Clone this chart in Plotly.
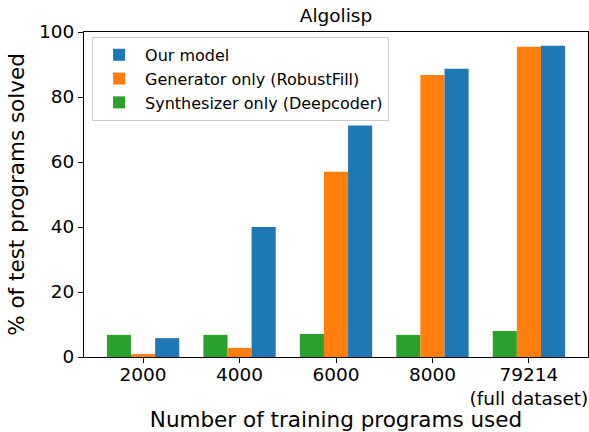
import plotly.graph_objects as go

categories = ["2000", "4000", "6000", "8000", "79214<br>(full dataset)"]
our_model = [5.8, 40.0, 71.2, 88.7, 95.8]
generator_only = [0.9, 2.8, 57.0, 86.8, 95.5]
synthesizer_only = [6.8, 6.8, 7.1, 6.8, 8.0]

BLUE = "#1f77b4"
ORANGE = "#ff7f0e"
GREEN = "#2ca02c"
FONT = "DejaVu Sans"

fig = go.Figure()
fig.add_trace(go.Bar(x=categories, y=synthesizer_only, name="Synthesizer only (Deepcoder)",
                     marker=dict(color=GREEN, line=dict(width=0))))
fig.add_trace(go.Bar(x=categories, y=generator_only, name="Generator only (RobustFill)",
                     marker=dict(color=ORANGE, line=dict(width=0))))
fig.add_trace(go.Bar(x=categories, y=our_model, name="Our model",
                     marker=dict(color=BLUE, line=dict(width=0))))

fig.update_layout(
    width=589, height=432,
    margin=dict(l=84, r=1, t=32, b=75, autoexpand=False),
    paper_bgcolor="white", plot_bgcolor="white",
    font=dict(family=FONT, color="black"),
    barmode="group", bargap=0.25, bargroupgap=0,
    title=dict(text="Algolisp", x=(84 + 252) / 589, xanchor="center",
               y=1 - 16 / 432, yanchor="middle", font=dict(size=18.5)),
    legend=dict(x=0.016, y=0.985, xanchor="left", yanchor="top",
                traceorder="reversed", bgcolor="rgba(255,255,255,0.8)",
                bordercolor="#cccccc", borderwidth=1, font=dict(size=16),
                itemwidth=42),
    showlegend=True,
)
fig.update_xaxes(
    range=[-0.6125, 4.6125], showline=True, mirror=True, linecolor="black", linewidth=1,
    ticks="outside", ticklen=5, tickcolor="black", tickfont=dict(size=18.5),
    ticklabelstandoff=-4,
    title=dict(text="Number of training programs used", font=dict(size=21.5), standoff=6),
    showgrid=False, automargin=False,
)
fig.update_yaxes(
    range=[0, 100], tickvals=[0, 20, 40, 60, 80, 100], showline=True, mirror=True,
    linecolor="black", linewidth=1, ticks="outside", ticklen=5, tickcolor="black",
    tickfont=dict(size=18.5), showgrid=False, zeroline=False, automargin=False,
    title=dict(text="% of test programs solved", font=dict(size=21.5), standoff=8),
)

fig.write_html("out.html", config={"displayModeBar": False},
               post_script="document.body.style.margin='0';document.body.style.overflow='hidden';")
